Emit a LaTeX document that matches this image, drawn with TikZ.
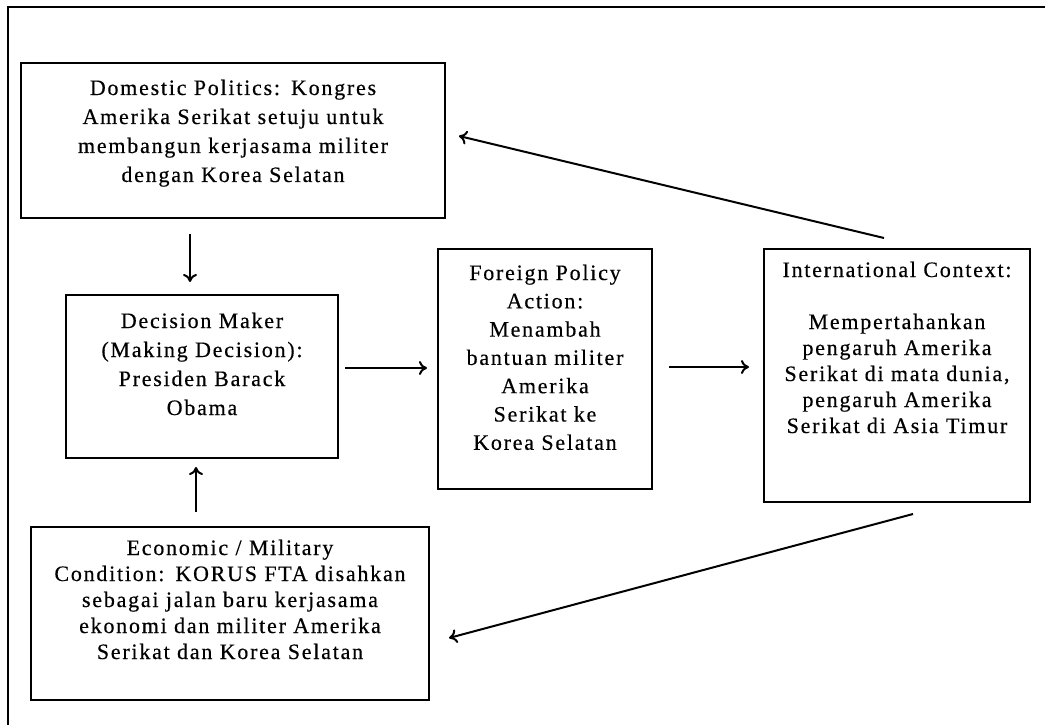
\documentclass[tikz,border=0pt]{standalone}
\usepackage{fontspec}
\setmainfont{Liberation Serif}[LetterSpace=8, FakeBold=0.4]
\usepackage{tikz}
\usetikzlibrary{arrows.meta}

\begin{document}
\begin{tikzpicture}[x=1pt, y=-1pt,
	box/.style = {draw, line width=2pt, anchor=north west, inner xsep=2pt, inner ysep=0pt, align=center, font=\fontsize{22}{29}\selectfont},
	arr/.style = {-{To[length=8pt, width=14pt]}, line width=2pt}]
	\useasboundingbox (0,0) rectangle (1045,725);
	\draw[line width=2.4pt] (8,7) rectangle (1070,750);
	\node[box, text width=420pt, text height=32pt, text depth=123pt] (dom) at (20,62) {Domestic Politics: Kongres\\ Amerika Serikat setuju untuk\\ membangun kerjasama militer\\ dengan Korea Selatan};
	\node[box, text width=268pt, text height=33pt, text depth=130pt] (dec) at (65,294) {Decision Maker\\ (Making Decision):\\ Presiden Barack\\ Obama};
	\node[box, text width=210pt, text height=31pt, text depth=209pt, font=\fontsize{22}{28.3}\selectfont] (for) at (437,248) {Foreign Policy\\ Action:\\ Menambah\\ bantuan militer\\ Amerika\\ Serikat ke\\ Korea Selatan};
	\node[box, text width=262pt, text height=28pt, text depth=225pt, font=\fontsize{22}{26}\selectfont] (int) at (763,248) {International Context:\\[26pt] Mempertahankan\\ pengaruh Amerika\\ Serikat di mata dunia,\\ pengaruh Amerika\\ Serikat di Asia Timur};
	\node[box, text width=394pt, text height=28pt, text depth=145pt, font=\fontsize{22}{26}\selectfont] (eco) at (30,526) {Economic / Military\\ Condition: KORUS FTA disahkan\\ sebagai jalan baru kerjasama\\ ekonomi dan militer Amerika\\ Serikat dan Korea Selatan};
	\draw[arr, shorten <=15pt, shorten >=12pt] ([xshift=-43pt]dom.south) -- ([xshift=-12pt]dec.north);
	\draw[arr, shorten <=14pt, shorten >=8pt] ([xshift=-34pt]eco.north) -- ([xshift=-6pt]dec.south);
	\draw[arr, shorten <=6pt, shorten >=10pt] ([yshift=8.5pt]dec.east) -- ([yshift=1pt]for.west);
	\draw[arr, shorten <=16pt, shorten >=14pt] ([yshift=2pt]for.east) -- ([yshift=8.5pt]int.west);
	\draw[arr] ([xshift=-13pt, yshift=10pt]int.north) -- ([xshift=13pt, yshift=4.5pt]dom.east);
	\draw[arr] ([xshift=16pt, yshift=-11pt]int.south) -- ([xshift=19pt, yshift=-24.5pt]eco.east);
\end{tikzpicture}
\end{document}
